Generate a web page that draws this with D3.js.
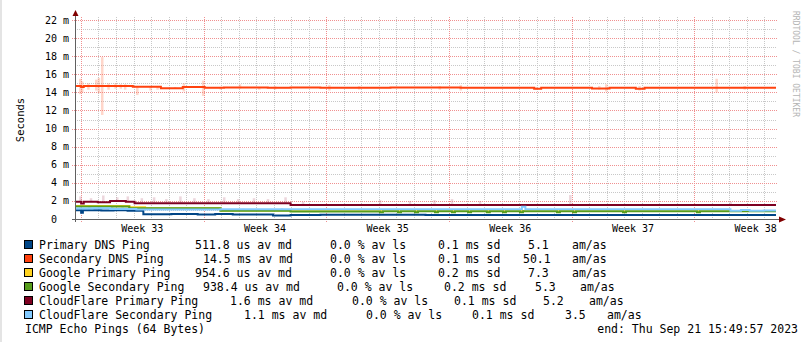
<!DOCTYPE html>
<html>
<head>
<meta charset="utf-8">
<script src="https://cdn.jsdelivr.net/npm/d3@7"></script>
<style>
  body { margin: 0; background: #fff; }
  svg { display: block; }
  text { font-family: "DejaVu Sans Mono", monospace; fill: #000; white-space: pre; }
</style>
</head>
<body>
<svg id="chart" width="805" height="342"></svg>
<script>
// ---- data (x in days since start, y in ms) ----
var startTime = Date.UTC(2023, 7, 12, 15, 49, 57);
var endTime = Date.UTC(2023, 8, 21, 15, 49, 57);

var seriesNames = ["Primary DNS Ping", "Secondary DNS Ping", "Google Primary Ping",
                   "Google Secondary Ping", "CloudFlare Primary Ping", "CloudFlare Secondary Ping"];
var seriesColors = ["#004586", "#ff420e", "#ffd320", "#579d1c", "#7e0021", "#83caff"];

var primaryDns = [[0,0.98],[0.35,0.7],[0.45,0.98],[1.5,0.95],[2.2,0.98],[3.0,0.92],[3.9,0.52],
  [5.5,0.55],[7,0.5],[8,0.55],[9,0.5],[11.3,0.38],[12.3,0.45],[14,0.48],[20,0.45],[28,0.44],[40,0.44]];
var secondaryDns = [[0,14.7],[0.35,14.6],[0.5,14.7],[3.3,14.62],[4.9,14.45],[6.15,14.58],[7.4,14.5],
  [8.5,14.55],[11,14.5],[12.3,14.55],[14,14.5],[18,14.55],[22,14.5],[26.2,14.4],[26.6,14.5],
  [29.5,14.42],[30.5,14.5],[32,14.4],[32.5,14.5],[40,14.5]];
var googlePrimary = [[0,1.45],[3.1,1.3],[4,1.2],[8.3,0.95],[12.3,0.88],[40,0.88]];
var googleSecondary = [[0,1.38],[3.1,1.2],[8.3,0.92],[12.3,0.83],[17.4,0.74],[17.57,0.85],[18.43,0.74],
  [18.6,0.85],[19.4,0.74],[19.57,0.85],[20.54,0.74],[20.71,0.85],[21.51,0.74],[21.68,0.85],
  [22.43,0.74],[22.6,0.85],[23.5,0.74],[23.67,0.85],[24.42,0.74],[24.59,0.85],[25.39,0.74],
  [25.56,0.85],[27.5,0.74],[27.67,0.85],[28.42,0.74],[28.59,0.85],[31.27,0.74],[31.44,0.85],
  [35.49,0.74],[35.66,0.85],[40,0.85]];
var cloudflarePrimary = [[0,1.9],[0.35,1.72],[0.5,1.9],[1.3,1.85],[2.0,2.0],[2.9,1.9],[3.4,1.73],
  [12.3,1.55],[40,1.55]];
var cloudflareSecondary = [[0,1.15],[1,1.2],[2,1.1],[3.5,1.05],[8.3,1.07],[25.5,1.35],[25.7,1.07],
  [37.4,0.9],[38,1.0],[38.5,0.9],[39.3,0.95],[40,0.95]];

// smoke: [day, low, high]
var secondarySmoke = [[0.29,13.8,15.5],[0.4,14.0,15.2],[0.75,14.3,15.0],[1.2,14.2,15.4],[1.35,13.9,15.6],
  [1.54,11.5,17.9],[1.9,14.3,15.0],[2.3,14.4,15.0],[2.6,14.4,14.9],[2.85,14.3,14.9],[3.54,13.7,14.6],
  [4.3,14.2,14.6],[4.7,14.3,14.7],[5.7,14.4,14.6],[6.2,14.1,15.0],[7.3,13.6,15.3],[8.3,14.3,14.6],
  [9.4,14.4,14.9],[10.5,14.3,14.6],[11.4,14.3,14.7],[14.5,14.2,14.8],[16.2,14.3,14.7],[20.8,14.3,14.7],
  [22.0,14.2,14.8],[26.3,14.3,14.6],[29.9,14.3,14.7],[30.3,14.1,14.9],[32.2,14.2,14.7],[36.6,14.0,15.5],
  [38.2,14.3,14.7]];
var cloudflareSmoke = [[0.3,1.9,2.5],[0.9,1.9,2.3],[1.6,1.85,2.6],[2.4,2.0,2.4],[3.0,1.9,2.5],[3.8,1.73,2.3],
  [4.5,1.73,2.4],[5.2,1.73,2.2],[6.0,1.73,2.5],[6.8,1.73,2.3],[7.6,1.73,2.2],[8.5,1.73,2.4],[9.3,1.73,2.2],
  [10.2,1.73,2.3],[11.0,1.73,2.2],[12.0,1.73,2.4],[13.0,1.55,1.9],[17.4,1.55,2.1],[19.1,1.55,2.0],
  [20.5,1.55,2.1],[21.5,1.55,2.2],[23.1,1.55,2.0],[28.25,1.55,2.65],[37.4,1.55,1.9]];
var lightBlueSmoke = [[0.3,0.9,1.45],[0.8,1.0,1.4],[1.4,0.95,1.35],[2.1,1.0,1.4],[2.7,1.0,1.3],
  [3.6,1.0,1.3],[4.6,1.0,1.25],[6.5,1.0,1.2],[9.6,1.0,1.15],[11.8,1.0,1.2]];

var yTicks = [0, 2, 4, 6, 8, 10, 12, 14, 16, 18, 20, 22];
var weekLabels = ["Week 33", "Week 34", "Week 35", "Week 36", "Week 37", "Week 38"];

var medians = ["511.8 us", "14.5 ms", "954.6 us", "938.4 us", "1.6 ms", "1.1 ms"];
var losses = ["0.0 %", "0.0 %", "0.0 %", "0.0 %", "0.0 %", "0.0 %"];
var stdDevs = ["0.1 ms", "0.1 ms", "0.2 ms", "0.2 ms", "0.1 ms", "0.1 ms"];
var amRatios = ["5.1", "50.1", "7.3", "5.3", "5.2", "3.5"];

// legend column x positions per row
var legendCols = [[39,195,330,438,528,572],[39,203,330,438,523,572],[39,195,330,438,528,572],
                  [39,203,337,444,535,580],[39,230,352,454,543,589],[39,244,366,472,565,607]];

var svg = d3.select("#chart");
var dayMs = 864e5;
function toDate(d) { return new Date(startTime + d * dayMs); }

// thin shaded edge on the left of the canvas
svg.append("rect").attr("x", 0).attr("y", 0).attr("width", 2).attr("height", 342).attr("fill", "#e4e4e4");

var x = d3.scaleUtc().domain([new Date(startTime), new Date(endTime)]).range([75, 776]);
var y = d3.scaleLinear().domain([0, 22]).range([219, 20]);

// ---- grid ----
var grid = svg.append("g");
var minorY = d3.range(1, 23, 2);
grid.selectAll(".hmin").data(minorY).enter().append("line")
    .attr("x1", 75).attr("x2", 777)
    .attr("y1", function(d) { return Math.round(y(d)) + 0.5; })
    .attr("y2", function(d) { return Math.round(y(d)) + 0.5; })
    .attr("stroke", "#c8c8c8").attr("stroke-dasharray", "1,1");
var days = d3.utcDay.range(new Date(startTime), new Date(endTime));
grid.selectAll(".vmin").data(days).enter().append("line")
    .attr("x1", function(d) { return Math.round(x(d)) + 0.5; })
    .attr("x2", function(d) { return Math.round(x(d)) + 0.5; })
    .attr("y1", 17).attr("y2", 219)
    .attr("stroke", "#c8c8c8").attr("stroke-dasharray", "1,1");
grid.selectAll(".hmaj").data(yTicks.slice(1)).enter().append("line")
    .attr("x1", 72).attr("x2", 777)
    .attr("y1", function(d) { return Math.round(y(d)) + 0.5; })
    .attr("y2", function(d) { return Math.round(y(d)) + 0.5; })
    .attr("stroke", "#f09090").attr("stroke-dasharray", "1,1");
var sundays = d3.utcSunday.range(new Date(startTime), new Date(endTime));
grid.selectAll(".vmaj").data(sundays).enter().append("line")
    .attr("x1", function(d) { return Math.round(x(d)) + 0.5; })
    .attr("x2", function(d) { return Math.round(x(d)) + 0.5; })
    .attr("y1", 17).attr("y2", 222)
    .attr("stroke", "#f09090").attr("stroke-dasharray", "1,1");

// ---- smoke ----
function drawSmoke(data, color, op) {
    svg.append("g").selectAll("rect").data(data).enter().append("rect")
        .attr("x", function(d) { return x(toDate(d[0])) - 1; })
        .attr("width", 2.5)
        .attr("y", function(d) { return y(d[2]); })
        .attr("height", function(d) { return y(d[1]) - y(d[2]); })
        .attr("fill", color).attr("opacity", op);
}
drawSmoke(cloudflareSmoke, "#c98a9a", 0.35);
drawSmoke(lightBlueSmoke, "#83caff", 0.45);
drawSmoke(secondarySmoke, "#ff8a66", 0.35);

// ---- lines ----
var line = d3.line()
    .x(function(d) { return x(toDate(d[0])); })
    .y(function(d) { return y(d[1]); })
    .curve(d3.curveStepAfter);
var allSeries = [primaryDns, secondaryDns, googlePrimary, googleSecondary, cloudflarePrimary, cloudflareSecondary];
svg.append("g").selectAll("path").data(allSeries).enter().append("path")
    .attr("d", line)
    .attr("fill", "none")
    .attr("stroke", function(d, i) { return seriesColors[i]; })
    .attr("stroke-width", 2);

// ---- axes ----
svg.append("line").attr("x1", 75.5).attr("x2", 75.5).attr("y1", 222).attr("y2", 14)
    .attr("stroke", "#606060");
svg.append("line").attr("x1", 72).attr("x2", 780).attr("y1", 219.5).attr("y2", 219.5)
    .attr("stroke", "#606060");
svg.append("path").attr("d", "M72.5,16 L75.5,10 L78.5,16 Z").attr("fill", "#800000");
svg.append("path").attr("d", "M779,216.5 L786,219.5 L779,222.5 Z").attr("fill", "#800000");

svg.append("g").selectAll("text").data(yTicks).enter().append("text")
    .attr("x", 69)
    .attr("y", function(d) { return y(d) + 3.5; })
    .attr("text-anchor", "end")
    .style("font-size", "10px")
    .text(function(d) { return d === 0 ? "0\u00a0\u00a0" : d + " m"; });

svg.append("g").selectAll("text").data(sundays).enter().append("text")
    .attr("x", function(d) { return x(new Date(+d + 3.5 * dayMs)); })
    .attr("y", 232)
    .attr("text-anchor", "middle")
    .style("font-size", "10px")
    .text(function(d, i) { return weekLabels[i]; });

svg.append("text").attr("transform", "translate(24,120) rotate(-90)")
    .attr("text-anchor", "middle").style("font-size", "10.5px").text("Seconds");
svg.append("text").attr("transform", "translate(793,64) rotate(90)")
    .attr("text-anchor", "middle").style("font-size", "8px").style("fill", "#b4b4b4")
    .text("RRDTOOL / TOBI OETIKER");

// ---- legend ----
var legend = svg.append("g").style("font-size", "11.5px");
seriesNames.forEach(function(name, i) {
    var base = 249 + i * 14;
    var cols = legendCols[i];
    legend.append("rect").attr("x", 24.5).attr("y", base - 8.5).attr("width", 8).attr("height", 8)
        .attr("fill", seriesColors[i]).attr("stroke", "#000");
    var parts = [name, medians[i] + " av md", losses[i] + " av ls", stdDevs[i] + " sd", amRatios[i], "am/as"];
    parts.forEach(function(p, j) {
        legend.append("text").attr("x", cols[j]).attr("y", base).text(p);
    });
});
legend.append("text").attr("x", 25).attr("y", 333).text("ICMP Echo Pings (64 Bytes)");
legend.append("text").attr("x", 798).attr("y", 333).attr("text-anchor", "end")
    .text("end: Thu Sep 21 15:49:57 2023");
</script>
</body>
</html>
